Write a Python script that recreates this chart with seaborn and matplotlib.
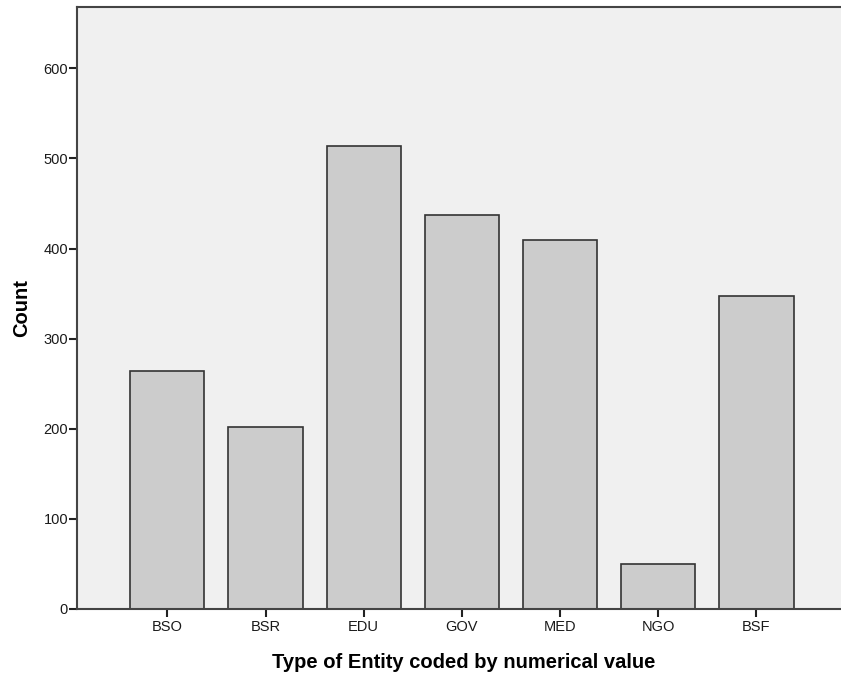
import matplotlib
matplotlib.use("Agg")
import matplotlib.pyplot as plt
import seaborn as sns
import pandas as pd

# Entity types and counts
entity_types = ['BSO', 'BSR', 'EDU', 'GOV', 'MED', 'NGO', 'BSF']
counts = [264, 202, 514, 437, 410, 50, 347]
y_ticks = [0, 100, 200, 300, 400, 500, 600]

df = pd.DataFrame({'entity': entity_types, 'count': counts})

sns.set_style('white')
plt.rcParams['font.family'] = ['Liberation Sans', 'DejaVu Sans']

fig = plt.figure(figsize=(8.41, 6.79), dpi=100)
ax = fig.add_axes([0.0916, 0.1031, 0.92, 0.8866])
ax.set_facecolor('#F0F0F0')

sns.barplot(data=df, x='entity', y='count', order=entity_types, color='#CCCCCC',
            edgecolor='#333333', linewidth=1.2, width=0.755, saturation=1, ax=ax)

ax.set_xlim(-0.92, 6.96)
ax.set_ylim(0, 668)
ax.set_yticks(y_ticks)

for side in ['left', 'bottom', 'top']:
    ax.spines[side].set_color('#444444')
    ax.spines[side].set_linewidth(1.5)
ax.spines['right'].set_visible(False)

ax.tick_params(axis='both', direction='out', length=6, width=1.5, color='#222222',
               labelsize=10.5, labelcolor='#1a1a1a', left=True, bottom=True)
ax.tick_params(axis='y', pad=0.5)
ax.tick_params(axis='x', pad=2)

ax.set_xlabel('Type of Entity coded by numerical value', fontsize=14.5, fontweight='bold', color='black')
ax.set_ylabel('Count', fontsize=14.5, fontweight='bold', color='black')
ax.xaxis.set_label_coords(0.5, -0.073)
ax.yaxis.set_label_coords(-0.059, 0.5)

fig.savefig('out.png', dpi=100, facecolor='white')
